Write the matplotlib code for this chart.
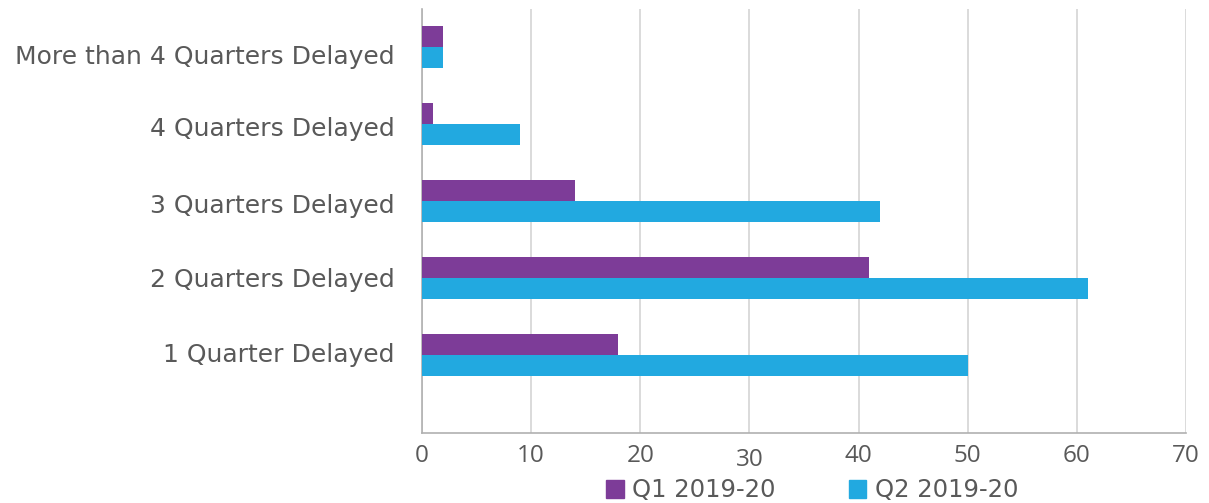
import matplotlib
matplotlib.use("Agg")
import matplotlib.pyplot as plt
import numpy as np
from matplotlib.patches import Patch

plt.rcParams['font.family'] = ['DejaVu Sans']

categories = ["1 Quarter Delayed", "2 Quarters Delayed", "3 Quarters Delayed",
              "4 Quarters Delayed", "More than 4 Quarters Delayed"]
q1 = [18, 41, 14, 1, 1.9]
q2 = [50, 61, 42, 9, 1.9]
series_names = ["Q1 2019-20", "Q2 2019-20"]
xticks = [0, 10, 20, 30, 40, 50, 60, 70]

purple = "#7D3C98"
blue = "#22A9E0"
grey_txt = "#595959"

fig = plt.figure(figsize=(12.09, 5.03), dpi=100)
ax = fig.add_axes([0.349, 0.1386, 0.632, 0.8435])

y = np.arange(len(categories))
h = 0.27
ax.barh(y + h / 2, q1, height=h, color=purple, zorder=3)
ax.barh(y - h / 2, q2, height=h, color=blue, zorder=3)

ax.set_xlim(0, 70)
ax.set_ylim(-1.016, 4.489)
# category labels in the original are not exactly centred on their bars
label_shift = [0.03, 0.0, -0.04, -0.035, -0.10]
ax.set_yticks(y + np.array(label_shift))
ax.set_yticklabels(categories, fontsize=18, color=grey_txt)
ax.set_xticks(xticks)
ax.set_xticklabels([str(t) for t in xticks], fontsize=17.5, color=grey_txt,
                   family='Open Sans')
ax.tick_params(axis='both', length=0)
ax.tick_params(axis='y', pad=19.5)
ax.tick_params(axis='x', pad=8)

# the "30" label sits a bit lower in the original
for lab in ax.get_xticklabels():
    if lab.get_text() == "30":
        lab.set_y(-0.008)

ax.grid(axis='x', color="#d4d4d4", linewidth=1.2, zorder=0)
for s in ['top', 'right']:
    ax.spines[s].set_visible(False)
ax.spines['left'].set_color("#b0b0b0")
ax.spines['bottom'].set_color("#b0b0b0")
ax.spines['left'].set_linewidth(1.2)
ax.spines['bottom'].set_linewidth(1.2)

handles = [Patch(color=purple), Patch(color=blue)]
fig.legend(handles, series_names, loc='center', bbox_to_anchor=(0.672, 0.025),
           ncol=2, frameon=False, fontsize=17.5, labelcolor=grey_txt,
           handlelength=0.72, handleheight=0.72, handletextpad=0.35, columnspacing=3.0)

fig.savefig("out.png", dpi=100)
